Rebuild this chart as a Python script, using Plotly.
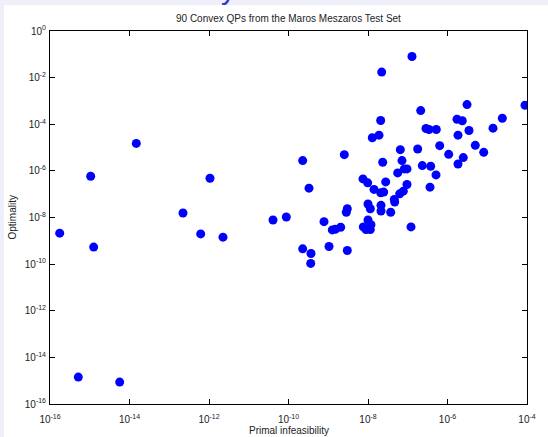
import plotly.graph_objects as go

# log10 of primal infeasibility and optimality for each problem
primal_log10 = [
    -15.756, -14.976, -13.829, -14.901, -12.654, -11.975, -12.209, -11.648, -15.288, -14.247,
    -6.893, -7.655, -5.509, -4.050, -6.674, -4.621, -5.761, -5.628, -7.681, -6.541,
    -6.465, -6.282, -4.855, -5.459, -7.723, -7.892, -5.736, -6.196, -5.301, -7.187,
    -6.750, -5.970, -5.089, -9.643, -8.596, -7.630, -7.145, -5.603, -5.736, -6.634,
    -6.423, -7.253, -7.087, -7.019, -6.289,
    -8.126, -8.008, -7.555, -9.484, -7.849, -7.681, -7.605, -7.019, -7.112, -7.203,
    -6.440, -7.338, -7.328, -8.000, -7.942, -7.673, -7.673, -7.429, -8.521, -8.546,
    -10.390, -10.055, -9.107, -8.898, -8.823, -8.687, -8.000, -8.118, -8.050, -7.925,
    -7.942, -6.918, -9.643, -9.434, -9.441, -8.981, -8.521,
]
optimality_log10 = [
    -8.673, -6.229, -4.821, -9.270, -7.807, -6.314, -8.703, -8.844, -14.846, -15.060,
    -1.096, -1.762, -3.157, -3.187, -3.413, -3.741, -3.784, -3.852, -3.840, -4.181,
    -4.224, -4.224, -4.168, -4.266, -4.467, -4.578, -4.467, -4.919, -4.906, -5.090,
    -5.064, -5.290, -5.205, -5.559, -5.303, -5.631, -5.559, -5.431, -5.704, -5.772,
    -5.802, -6.088, -5.917, -5.917, -6.173,
    -6.344, -6.514, -6.472, -6.741, -6.796, -6.941, -6.911, -6.583, -6.869, -6.984,
    -6.698, -7.223, -7.338, -7.423, -7.624, -7.479, -7.722, -7.777, -7.624, -7.777,
    -8.106, -7.978, -8.178, -8.532, -8.503, -8.417, -8.106, -8.404, -8.520, -8.306,
    -8.520, -8.404, -9.343, -9.543, -9.970, -9.245, -9.416,
]

primal = [10 ** v for v in primal_log10]
optimality = [10 ** v for v in optimality_log10]

x_tick_exponents = [-16, -14, -12, -10, -8, -6, -4]
y_tick_exponents = [-16, -14, -12, -10, -8, -6, -4, -2, 0]

title_text = "90 Convex QPs from the Maros Meszaros Test Set"
x_label = "Primal infeasibility"
y_label = "Optimality"

font_family = "Liberation Sans, Arial, sans-serif"
text_color = "#222222"


def tick_labels(exps):
    return ["10<sup>%d</sup>" % e for e in exps]


fig = go.Figure()
fig.add_trace(go.Scatter(
    x=primal, y=optimality, mode="markers",
    marker=dict(color="#0000ff", size=9, line=dict(width=0)),
    showlegend=False, hoverinfo="x+y",
))

axis_common = dict(
    type="log", showgrid=False, zeroline=False,
    showline=True, linecolor="black", linewidth=1, mirror="ticks",
    ticks="inside", ticklen=5, tickcolor="black", tickwidth=1,
    tickfont=dict(family=font_family, size=10, color=text_color),
)

fig.update_layout(
    width=548, height=437,
    margin=dict(l=50, r=21, t=31, b=31),
    paper_bgcolor="#efeffa", plot_bgcolor="white",
    font=dict(family=font_family, color=text_color),
    xaxis=dict(range=[-16, -4], ticklabelstandoff=6,
               tickvals=[10 ** e for e in x_tick_exponents],
               ticktext=tick_labels(x_tick_exponents), **axis_common),
    yaxis=dict(range=[-16, 0], ticklabelstandoff=1,
               tickvals=[10 ** e for e in y_tick_exponents],
               ticktext=tick_labels(y_tick_exponents), **axis_common),
    shapes=[dict(type="rect", xref="paper", yref="paper",
                 x0=(4 - 50) / 477, x1=1.2, y0=-0.2, y1=(406 - 5) / 375,
                 fillcolor="white", line=dict(width=0), layer="below")],
    annotations=[
        dict(text=title_text, xref="paper", yref="paper", x=0.5, y=1.0, yshift=5,
             xanchor="center", yanchor="bottom", showarrow=False,
             font=dict(family=font_family, size=10, color=text_color)),
        dict(text=x_label, xref="paper", yref="paper", x=0.5, y=0, yshift=-19,
             xanchor="center", yanchor="top", showarrow=False,
             font=dict(family=font_family, size=10, color=text_color)),
        dict(text=y_label, xref="paper", yref="paper", x=0, xshift=-38, y=0.5,
             xanchor="center", yanchor="middle", textangle=-90, showarrow=False,
             font=dict(family=font_family, size=10, color=text_color)),
        dict(text="y", xref="paper", yref="paper", x=(228 - 50) / 477, y=(406 - 7) / 375,
             xanchor="center", yanchor="bottom", showarrow=False,
             font=dict(family=font_family, size=30, color="#3434cc")),
    ],
)

fig.write_html("out.html", config={"displayModeBar": False},
               post_script="document.body.style.margin='0px';document.body.style.padding='0px';")
